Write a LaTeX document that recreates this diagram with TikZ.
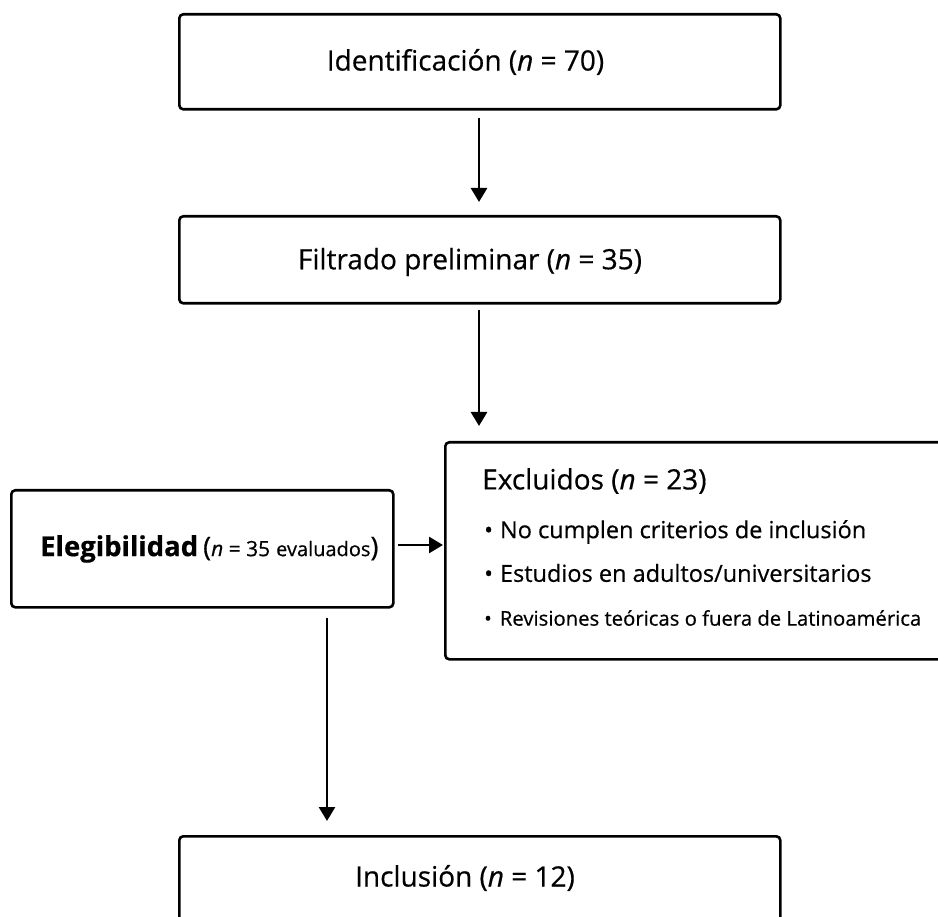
\documentclass[tikz,border=0pt]{standalone}
\usepackage{fontspec}
\setmainfont[FakeBold=0.5]{Open Sans}
\usetikzlibrary{arrows.meta}
\begin{document}
\begin{tikzpicture}[x=1pt,y=-1pt,
  box/.style={draw=black, line width=2.6pt, rounded corners=4pt, inner sep=0pt, anchor=north west},
  arr/.style={draw=black, line width=2.6pt, -{Triangle[length=14pt,width=16pt]}},
  txt/.style={inner sep=0pt, font=\fontsize{28}{32}\selectfont},
  item/.style={inner sep=0pt, anchor=west, font=\fontsize{23.5}{27}\selectfont}]
\fill[white] (0,0) rectangle (938,917);
\useasboundingbox (0,0) rectangle (938,917);
% boxes
\node[box, minimum width=601pt, minimum height=95pt] (b1) at (178,13) {};
\node[box, minimum width=601pt, minimum height=87pt] (b2) at (178,215) {};
\node[box, minimum width=520pt, minimum height=217pt] (ex) at (444,441) {};
\node[box, minimum width=382pt, minimum height=117pt] (el) at (10,489) {};
\node[box, minimum width=601pt, minimum height=100pt] (in) at (178,835) {};
% texts
\node[txt] (t1) at (465.5,62) {Identificación (\textit{n} = 70)};
\node[txt] (t2) at (470,262) {Filtrado preliminar (\textit{n} = 35)};
\node[txt, anchor=west] (ext) at (482,481) {Excluidos (\textit{n} = 23)};
\node[item] (i1) at (484,532) {\textbullet\hspace{7pt}No cumplen criterios de inclusión};
\node[item] (i2) at (484,573) {\textbullet\hspace{7pt}Estudios en adultos/universitarios};
\node[item, font=\fontsize{20.3}{24}\selectfont] (i3) at (484,618) {\textbullet\hspace{8pt}Revisiones teóricas o fuera de Latinoamérica};
\node[inner sep=0pt, anchor=west] (elt) at (40,549) {{\fontsize{27.5}{32}\selectfont\bfseries Elegibilidad}\hspace{5pt}{\fontsize{27}{32}\selectfont (}{\fontsize{21}{27}\selectfont\textit{n} = 35}\hspace{6pt}{\fontsize{20}{24}\selectfont evaluados}{\fontsize{27}{32}\selectfont )}};
\node[txt] (int) at (465,878) {Inclusión (\textit{n} = 12)};
% helper coordinates
\coordinate (c1) at (479,0);
\coordinate (c2) at (327,0);
\coordinate (c3) at (0,545);
% arrows
\draw[arr, shorten <=7pt, shorten >=13pt] (b1.south -| c1) -- (b2.north -| c1);
\draw[arr, shorten <=5pt, shorten >=15pt] (b2.south -| c1) -- (ex.north -| c1);
\draw[arr, shorten <=3pt, shorten >=1pt] (el.east |- c3) -- (ex.west |- c3);
\draw[arr, shorten <=9pt, shorten >=14pt] (el.south -| c2) -- (in.north -| c2);
\end{tikzpicture}
\end{document}
